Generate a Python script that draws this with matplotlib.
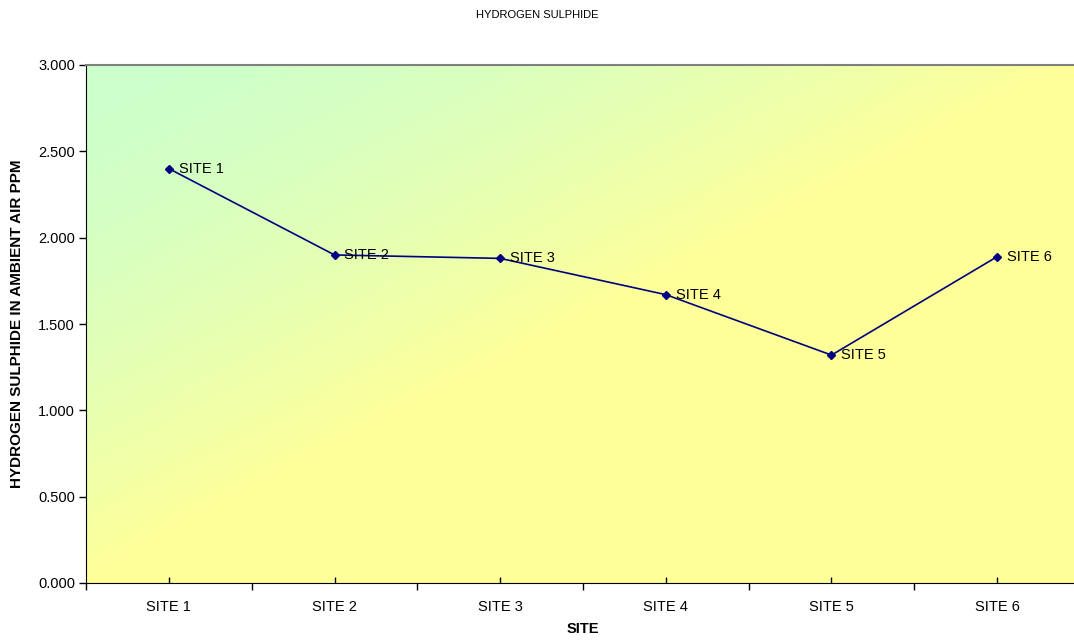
import numpy as np
import matplotlib.pyplot as plt
from matplotlib.colors import LinearSegmentedColormap
from matplotlib.ticker import FixedLocator

sites = ['SITE 1', 'SITE 2', 'SITE 3', 'SITE 4', 'SITE 5', 'SITE 6']
h2s_ppm = [2.40, 1.90, 1.88, 1.67, 1.32, 1.89]
y_ticks = [0.0, 0.5, 1.0, 1.5, 2.0, 2.5, 3.0]

plt.rcParams['font.family'] = ['Liberation Sans', 'DejaVu Sans']

fig = plt.figure(figsize=(10.74, 6.42), dpi=100)
ax = fig.add_axes([86 / 1074, 1 - 583 / 642, 994 / 1074, 518 / 642])

# diagonal fill: light green in the top-left corner fading to pale yellow
cmap = LinearSegmentedColormap.from_list('bg', ['#ccffcc', '#ffff99'])
u, v = np.meshgrid(np.linspace(0, 1, 400), np.linspace(0, 1, 300))
grad = np.clip(u + v, 0, 1) ** 1.5
ax.imshow(grad, cmap=cmap, extent=[0, 1, 0, 1], origin='upper',
          transform=ax.transAxes, aspect='auto', zorder=0, interpolation='bilinear')

x = np.arange(1, len(sites) + 1)
ax.plot(x, h2s_ppm, color='#000080', lw=1.2, marker='D', ms=4.5, zorder=3)
for xi, yi, name in zip(x, h2s_ppm, sites):
    ax.annotate(name, (xi, yi), xytext=(7, 0), textcoords='offset points',
                va='center', ha='left', fontsize=10.5, color='black', zorder=4)

ax.set_xlim(0.5, 6.5)
ax.set_ylim(0, 3)
ax.set_yticks(y_ticks)
ax.set_yticklabels([f'{t:.3f}' for t in y_ticks])
ax.set_xticks(x)
ax.set_xticklabels(sites)
ax.xaxis.set_minor_locator(FixedLocator(np.arange(0.5, 7.0, 1.0)))

ax.tick_params(axis='y', direction='out', length=5, width=1, pad=3, labelsize=10.5)
ax.tick_params(axis='x', which='major', direction='in', length=4, width=1, pad=12, labelsize=10.5)
ax.tick_params(axis='x', which='minor', direction='out', length=5, width=1)

ax.spines['left'].set_color('black')
ax.spines['bottom'].set_color('black')
ax.spines['top'].set_color('#808080')
ax.spines['top'].set_linewidth(1.5)
ax.spines['right'].set_visible(False)

ax.set_xlabel('SITE', fontsize=10.5, fontweight='bold', labelpad=6)
ax.set_ylabel('HYDROGEN SULPHIDE IN AMBIENT AIR PPM', fontsize=11, fontweight='bold', labelpad=8)
ax.yaxis.set_label_coords(-62 / 994, 0.5)

fig.text(0.5, 1 - 15 / 642, 'HYDROGEN SULPHIDE', ha='center', va='center', fontsize=8)

fig.savefig('out.png', dpi=100)
